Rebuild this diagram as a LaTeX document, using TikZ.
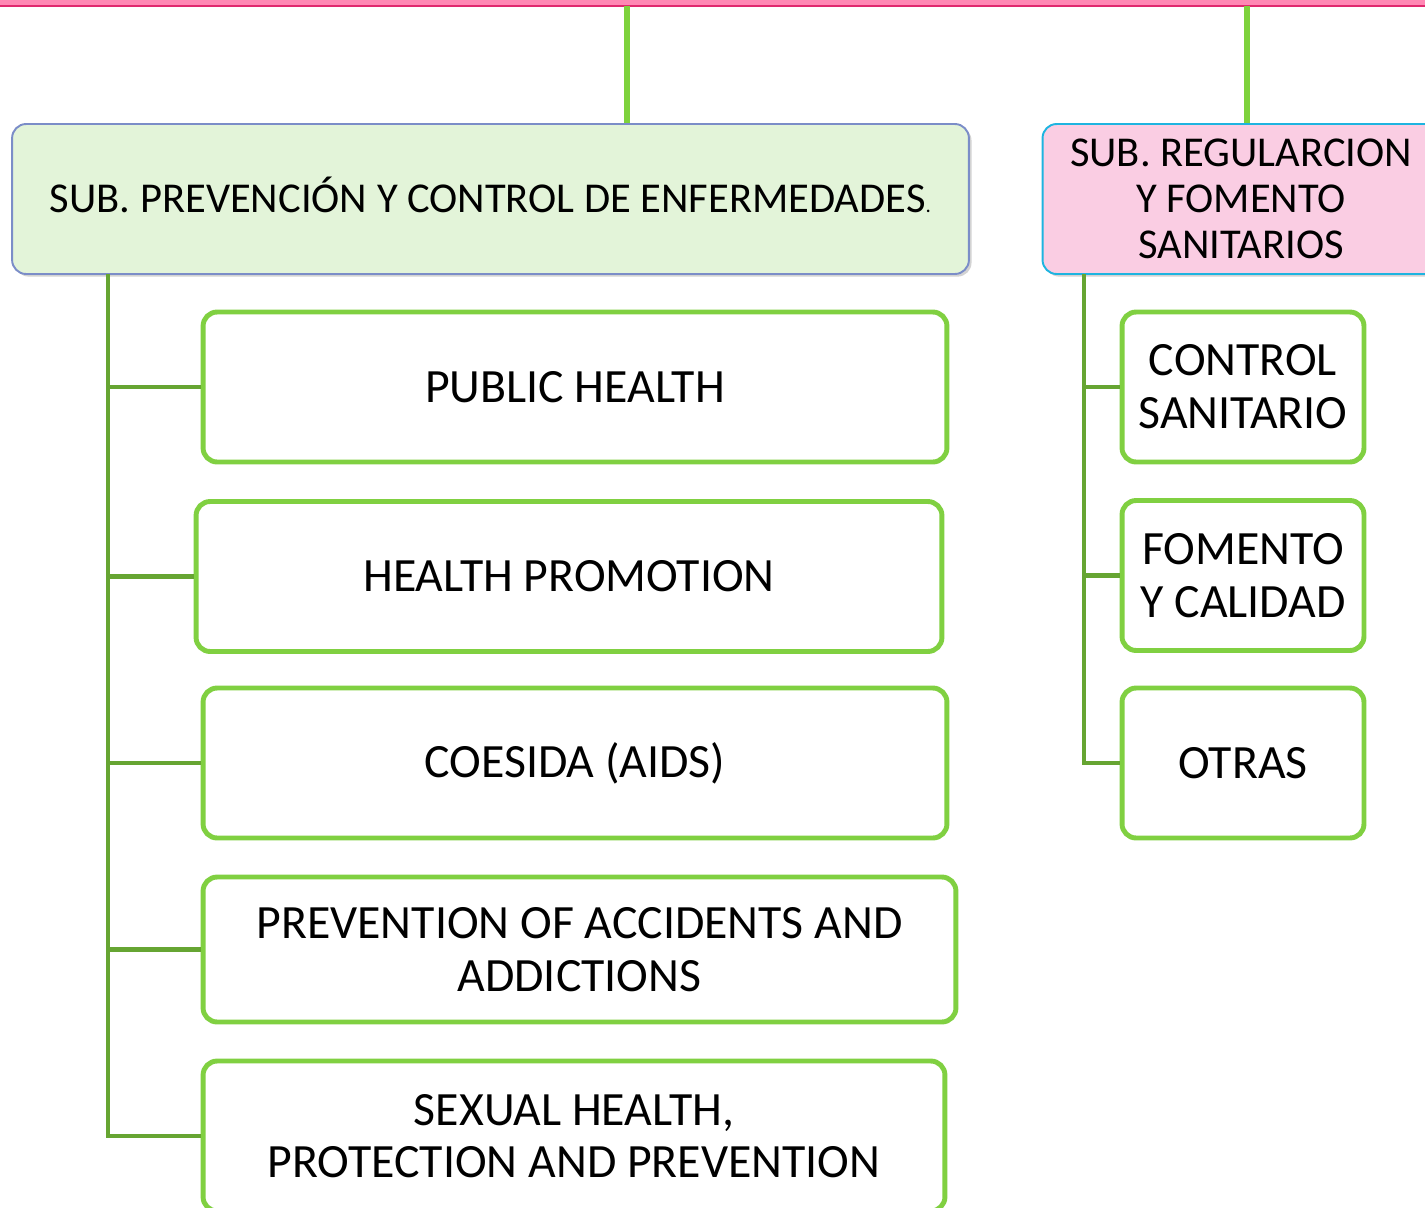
\documentclass[tikz,border=0pt]{standalone}
\usepackage{fontspec}
\setmainfont{Carlito}
\usepackage{xcolor}
\usetikzlibrary{positioning, shadows}
\definecolor{barpink}{HTML}{FF88B4}
\definecolor{barline}{HTML}{E0286E}
\definecolor{linkgreen}{HTML}{7ED23C}
\definecolor{trunkgreen}{HTML}{66A532}
\definecolor{headgreen}{HTML}{E3F4D9}
\definecolor{headblue}{HTML}{7B8DC8}
\definecolor{headpink}{HTML}{FACDE3}
\definecolor{headcyan}{HTML}{1EB4E0}
\definecolor{boxgreen}{HTML}{80D041}

\begin{document}
\begin{tikzpicture}[x=0.02cm, y=-0.02cm,
    headbox/.style={rounded corners=8pt, line width=1.1pt, minimum height=3cm,
      align=center, font=\fontsize{24.2}{26}\selectfont,
      drop shadow={opacity=0.35, shadow xshift=1.5pt, shadow yshift=-1.5pt}},
    unitbox/.style={draw=boxgreen, fill=white, rounded corners=8pt, line width=2.8pt,
      minimum height=3cm, align=center, font=\fontsize{27.2}{30}\selectfont},
    branch/.style={draw=trunkgreen, line width=2.8pt},
    feed/.style={draw=linkgreen, line width=3.2pt}]
    \useasboundingbox (0,0) rectangle (1425,1207);
    \clip (0,0) rectangle (1425,1207);
    % top bar
    \fill[barpink] (0,-10) rectangle (1425,5);
    \draw[barline, line width=1pt] (0,6) -- (1425,6);
    % heads
    \node[headbox, fill=headgreen, draw=headblue, minimum width=19.14cm,
      text height=17pt, text depth=2pt] (prev) at (490.5,199)
      {SUB. PREVENCIÓN Y CONTROL DE ENFERMEDADES{\fontsize{12}{13}\selectfont.}};
    \node[headbox, fill=headpink, draw=headcyan, minimum width=7.94cm] (regu) at (1241,199)
      {SUB. REGULARCION\\Y FOMENTO\\SANITARIOS};
    \coordinate (feedL) at (627,6);
    \coordinate (feedR) at (1247,6);
    \draw[feed] (feedL) -- (feedL |- prev.north);
    \draw[feed] (feedR) -- (feedR |- regu.north);
    % left units
    \node[unitbox, minimum width=14.88cm] (pubh) at (575,387) {PUBLIC HEALTH};
    \node[unitbox, minimum width=14.92cm] (hpro) at (569,576.5) {HEALTH PROMOTION};
    \node[unitbox, minimum width=14.88cm] (coes) at (575,763) {COESIDA (AIDS)};
    \node[unitbox, minimum width=15.06cm, minimum height=2.9cm] (pacc) at (579.5,949.5)
      {PREVENTION OF ACCIDENTS AND\\ADDICTIONS};
    \node[unitbox, minimum width=14.84cm] (sexh) at (574,1136)
      {SEXUAL HEALTH,\\PROTECTION AND PREVENTION};
    \coordinate (trunkL) at (108,274);
    \foreach \u in {pubh, hpro, coes, pacc, sexh}
      \draw[branch] (trunkL) |- (\u.west);
    % right units
    \node[unitbox, minimum width=4.84cm] (csan) at (1243,387) {CONTROL\\SANITARIO};
    \node[unitbox, minimum width=4.84cm] (fcal) at (1243,575.5) {FOMENTO\\Y CALIDAD};
    \node[unitbox, minimum width=4.84cm] (otra) at (1243,763) {OTRAS};
    \coordinate (trunkR) at (1084,274);
    \foreach \u in {csan, fcal, otra}
      \draw[branch] (trunkR) |- (\u.west);
\end{tikzpicture}
\end{document}
